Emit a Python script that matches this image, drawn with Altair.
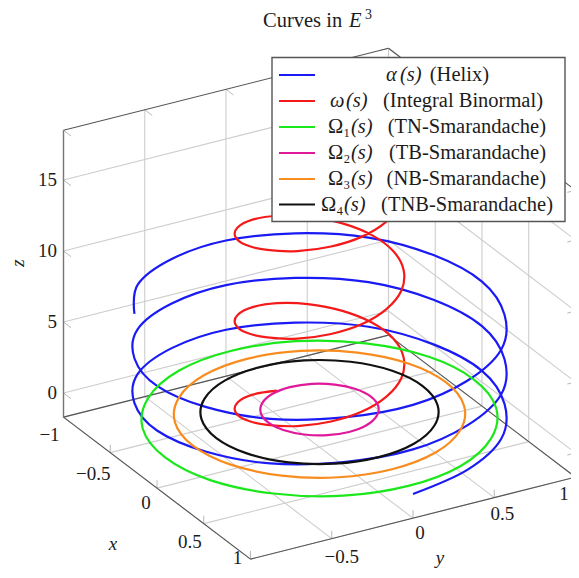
import altair as alt
import pandas as pd

helix_x = [1,.92,.71,.38,0,-.38,-.71,-.92,-1,-.92,-.71,-.38,0,.38,.71,.92,
           1,.92,.71,.38,0,-.38,-.71,-.92,-1,-.92,-.71,-.38,0,.38,.71,.92,
           1,.92,.71,.38,0,-.38,-.71,-.92,-1,-.92,-.71,-.38]
helix_y = [0,.38,.71,.92,1,.92,.71,.38,0,-.38,-.71,-.92,-1,-.92,-.71,-.38,
           0,.38,.71,.92,1,.92,.71,.38,0,-.38,-.71,-.92,-1,-.92,-.71,-.38,
           0,.38,.71,.92,1,.92,.71,.38,0,-.38,-.71,-.92]
helix_z = [0,.2,.39,.59,.79,.98,1.18,1.37,1.57,1.77,1.96,2.16,2.36,2.55,2.75,2.95,
           3.14,3.34,3.53,3.73,3.93,4.12,4.32,4.52,4.71,4.91,5.11,5.3,5.5,5.69,5.89,6.09,
           6.28,6.48,6.68,6.87,7.07,7.27,7.46,7.66,7.85,8.05,8.25,8.44]

binorm_x = [-.455,-.42,-.32,-.17,0,.17,.32,.42,.455,.42,.32,.17,0,-.17,-.32,-.42,
            -.455,-.42,-.32,-.17,0,.17,.32,.42,.455,.42,.32,.17,0,-.17,-.32,-.42,
            -.455,-.42,-.32,-.17,0,.17,.32,.42,.455,.42,.32,.17]
binorm_y = [0,-.17,-.32,-.42,-.455,-.42,-.32,-.17,0,.17,.32,.42,.455,.42,.32,.17,
            0,-.17,-.32,-.42,-.455,-.42,-.32,-.17,0,.17,.32,.42,.455,.42,.32,.17,
            0,-.17,-.32,-.42,-.455,-.42,-.32,-.17,0,.17,.32,.42]
binorm_z = [0,.39,.77,1.16,1.54,1.93,2.31,2.7,3.08,3.47,3.85,4.24,4.62,5.01,5.39,5.78,
            6.16,6.55,6.93,7.32,7.7,8.09,8.47,8.86,9.24,9.63,10.01,10.4,10.78,11.17,11.55,11.94,
            12.32,12.71,13.09,13.48,13.86,14.25,14.63,15.02,15.4,15.79,16.17,16.56]

tn_x = [.95,.88,.67,.36,0,-.36,-.67,-.88,-.95,-.88,-.67,-.36,0,.36,.67,.88]
tn_y = [0,.36,.67,.88,.95,.88,.67,.36,0,-.36,-.67,-.88,-.95,-.88,-.67,-.36]
tn_z = [.32]*16
tb_x = [.316,.292,.223,.121,0,-.121,-.223,-.292,-.316,-.292,-.223,-.121,0,.121,.223,.292]
tb_y = [0,.121,.223,.292,.316,.292,.223,.121,0,-.121,-.223,-.292,-.316,-.292,-.223,-.121]
tb_z = [.95]*16
nb_x = [.777,.718,.549,.298,0,-.298,-.549,-.718,-.777,-.718,-.549,-.298,0,.298,.549,.718]
nb_y = [0,.298,.549,.718,.777,.718,.549,.298,0,-.298,-.549,-.718,-.777,-.718,-.549,-.298]
nb_z = [.63]*16
tnb_x = [.635,.587,.449,.243,0,-.243,-.449,-.587,-.635,-.587,-.449,-.243,0,.243,.449,.587]
tnb_y = [0,.243,.449,.587,.635,.587,.449,.243,0,-.243,-.449,-.587,-.635,-.587,-.449,-.243]
tnb_z = [.77]*16

x_ticks = [-1, -.5, 0, .5, 1]
y_ticks = [-1, -.5, 0, .5, 1]
z_ticks = [0, 5, 10, 15]
x_tick_labels = ["\u22121", "\u22120.5", "0", "0.5", "1"]
y_tick_labels = ["\u22120.5", "0", "0.5"]
z_tick_labels = ["0", "5", "10", "15"]

legend_sym = ["\u03b1", "\u03c9", "\u03a9\u2081", "\u03a9\u2082", "\u03a9\u2083", "\u03a9\u2084"]
legend_text = ["(Helix)", "(Integral Binormal)", "(TN-Smarandache)", "(TB-Smarandache)",
               "(NB-Smarandache)", "(TNB-Smarandache)"]
colors = ["#1a1af5", "#f51a1a", "#1ae81a", "#e0189a", "#f88c1e", "#111111"]

FONT = "Liberation Serif"
FS = 19
LFS = 20.5
Z0, Z1 = -1.7, 18.5


def px(x, y):
    return 319.5 + 93.5 * x + 162.5 * y


def py(x, y, z):
    return 423 + 71 * x - 41 * y - 14.2 * z


xs = alt.Scale(domain=[8, 571], range=[0, 563], nice=False, zero=False)
ys = alt.Scale(domain=[8, 570], range=[0, 562], nice=False, zero=False)
X = lambda f="px": alt.X(f + ":Q", scale=xs, axis=None)
Y = lambda f="py": alt.Y(f + ":Q", scale=ys, axis=None)


def segs(rows, color, width):
    df = pd.DataFrame(
        [dict(px=px(a, b), py=py(a, b, c), px2=px(d, e), py2=py(d, e, f)) for a, b, c, d, e, f in rows]
    )
    return alt.Chart(df).mark_rule(color=color, strokeWidth=width).encode(
        x=X(), y=Y(), x2="px2:Q", y2="py2:Q"
    )


grid, ticks = [], []
for yy in y_ticks:
    grid.append((-1, yy, Z0, -1, yy, Z1))
    grid.append((-1, yy, Z0, 1, yy, Z0))
    ticks.append((1, yy, Z0, 1, yy, Z0 + .56))
    ticks.append((-1, yy, Z1, -.92, yy, Z1))
for xx in x_ticks:
    grid.append((xx, 1, Z0, xx, 1, Z1))
    grid.append((xx, -1, Z0, xx, 1, Z0))
    ticks.append((xx, -1, Z0, xx, -1, Z0 + .56))
    ticks.append((xx, 1, Z1, xx, .95, Z1))
for zz in z_ticks:
    grid.append((-1, -1, zz, -1, 1, zz))
    grid.append((-1, 1, zz, 1, 1, zz))
    ticks.append((-1, -1, zz, -.92, -1, zz))
    ticks.append((1, 1, zz, 1, .95, zz))

edges = [(-1, -1, Z0, 1, -1, Z0), (1, -1, Z0, 1, 1, Z0), (-1, -1, Z0, -1, 1, Z0), (-1, 1, Z0, 1, 1, Z0),
         (-1, -1, Z1, -1, 1, Z1), (-1, 1, Z1, 1, 1, Z1)]
left_edge = [(-1, -1, Z0, -1, -1, Z1)]


def curve(xv, yv, zv, color, closed=False):
    df = pd.DataFrame({"px": [px(a, b) for a, b in zip(xv, yv)],
                       "py": [py(a, b, c) for a, b, c in zip(xv, yv, zv)],
                       "i": range(len(xv))})
    return alt.Chart(df).mark_line(
        color=color, strokeWidth=2.2, clip=False,
        interpolate="cardinal-closed" if closed else "cardinal", tension=0,
    ).encode(x=X(), y=Y(), order="i:Q")


def text(items, **kw):
    df = pd.DataFrame(items, columns=["px", "py", "t"])
    kw.setdefault("fontSize", FS)
    kw.setdefault("font", FONT)
    kw.setdefault("color", "#1c1c1c")
    kw.setdefault("baseline", "middle")
    return alt.Chart(df).mark_text(**kw).encode(x=X(), y=Y(), text="t:N")


layers = [
    segs(grid, "#cdcdcd", 1.1),
    segs(ticks, "#b8b8b8", 1),
    segs(edges, "#555555", 1.1),
    segs(left_edge, "#777777", 1.4),
    curve(helix_x, helix_y, helix_z, colors[0]),
    curve(binorm_x, binorm_y, binorm_z, colors[1]),
    curve(tn_x, tn_y, tn_z, colors[2], True),
    curve(tb_x, tb_y, tb_z, colors[3], True),
    curve(nb_x, nb_y, nb_z, colors[4], True),
    curve(tnb_x, tnb_y, tnb_z, colors[5], True),
]

# Tick labels (offsets from the tick's foot)
x_off = [(-14, 18), (-17, 21), (-11, 15), (-14, 18), (-13, -1)]
layers.append(text([(px(v, -1) + o[0], py(v, -1, Z0) + o[1], s)
                    for v, s, o in zip(x_ticks, x_tick_labels, x_off)], align="center"))
y_off = [(10, 18), (7, 15), (8, 16.5)]
layers.append(text([(px(1, v) + o[0], py(1, v, Z0) + o[1], s)
                    for v, s, o in zip(y_ticks[1:4], y_tick_labels, y_off)], align="center"))
layers.append(text([(564, 494, "1")], align="center"))
layers.append(text([(57, py(-1, -1, v), s) for v, s in zip(z_ticks, z_tick_labels)], align="right"))
layers.append(text([(113, 544, "x")], align="center", fontStyle="italic"))
layers.append(text([(440, 558, "y")], align="center", fontStyle="italic"))
layers.append(text([(18, 263, "z")], align="center", fontStyle="italic", angle=270))

# Title
layers.append(text([(263, 21, "Curves in")], align="left", fontSize=LFS))
layers.append(text([(349, 21, "E")], align="left", fontSize=LFS, fontStyle="italic"))
layers.append(text([(365, 15, "3")], align="left", fontSize=14))

# Legend
frame = pd.DataFrame({"px": [272], "px2": [565], "py": [57.5], "py2": [221.5]})
layers.append(alt.Chart(frame).mark_rect(fill="white", stroke="#555555", strokeWidth=1.4).encode(
    x=X(), x2="px2:Q", y=Y(), y2="py2:Q"))
rows_y = [75, 101, 127, 153, 179, 204.5]
sym_left = [386, 330, 328, 328, 328, 321]
par_left = [400, 346, 351, 351, 351, 344]
text_right = [489, 543, 546, 546, 546, 553]
sample = pd.DataFrame({"px": [279] * 6, "px2": [315] * 6, "py": rows_y, "c": colors})
layers.append(alt.Chart(sample).mark_rule(strokeWidth=2.2).encode(
    x=X(), x2="px2:Q", y=Y(), color=alt.Color("c:N", scale=None)))
layers.append(text([(a, b, s) for a, b, s in zip(sym_left[:2], rows_y[:2], legend_sym[:2])],
                   align="left", fontStyle="italic", fontSize=LFS))
layers.append(text([(a, b, s) for a, b, s in zip(sym_left[2:], rows_y[2:], legend_sym[2:])],
                   align="left", fontSize=LFS))
layers.append(text([(a, b, "(s)") for a, b in zip(par_left, rows_y)],
                   align="left", fontStyle="italic", fontSize=LFS))
layers.append(text([(a, b, s) for a, b, s in zip(text_right, rows_y, legend_text)],
                   align="right", fontSize=LFS))

chart = alt.layer(*layers).properties(
    width=563, height=562, padding=0, autosize=alt.AutoSizeParams(type="none")
).configure_view(stroke=None)

chart.save("out.html", embed_options={"renderer": "svg", "actions": False})
